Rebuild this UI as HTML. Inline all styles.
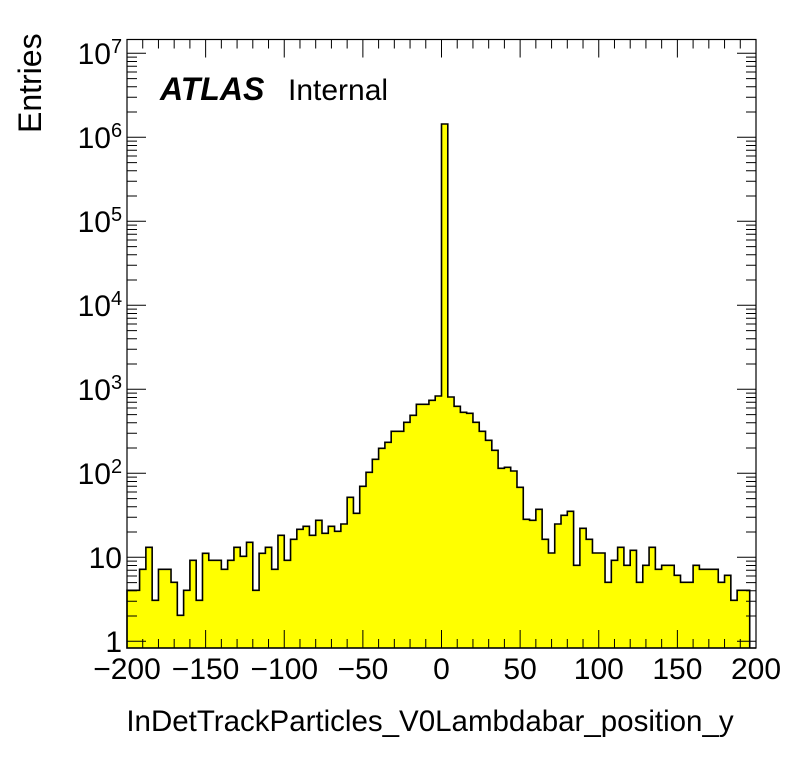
<!DOCTYPE html>
<html><head><meta charset="utf-8"><style>
body{margin:0;background:#fff;}
svg text{font-family:"Liberation Sans",sans-serif;fill:#000;}
</style></head><body>
<svg id="s" width="796" height="772" xmlns="http://www.w3.org/2000/svg">
<rect x="0" y="0" width="796" height="772" fill="#fff"/>
<g id="hist"></g>
<g id="ticks" stroke="#000" stroke-width="1" fill="none"></g>
<rect x="127" y="39.5" width="629" height="608.5" fill="none" stroke="#000" stroke-width="1.2"/>
<g font-size="30" text-anchor="middle">
<text x="127" y="679">−200</text>
<text x="205.6" y="679">−150</text>
<text x="284.3" y="679">−100</text>
<text x="362.9" y="679">−50</text>
<text x="441.5" y="679">0</text>
<text x="520.1" y="679">50</text>
<text x="598.8" y="679">100</text>
<text x="677.4" y="679">150</text>
<text x="756" y="679">200</text>
</g>
<g font-size="30" text-anchor="end">
<text x="122" y="652">1</text>
<text x="122" y="568">10</text>
<text x="111" y="484">10</text><text x="111" y="473" font-size="20" text-anchor="start">2</text>
<text x="111" y="400">10</text><text x="111" y="389" font-size="20" text-anchor="start">3</text>
<text x="111" y="316">10</text><text x="111" y="305" font-size="20" text-anchor="start">4</text>
<text x="111" y="232">10</text><text x="111" y="221" font-size="20" text-anchor="start">5</text>
<text x="111" y="148">10</text><text x="111" y="137" font-size="20" text-anchor="start">6</text>
<text x="111" y="64">10</text><text x="111" y="53" font-size="20" text-anchor="start">7</text>
</g>
<text x="41" y="133" font-size="32" transform="rotate(-90 41 133)" text-anchor="start">Entries</text>
<text x="430" y="731" font-size="29.5" text-anchor="middle">InDetTrackParticles_V0Lambdabar_position_y</text>
<text x="160" y="100" font-size="32" font-weight="bold" font-style="italic">ATLAS</text>
<text x="288" y="100" font-size="30">Internal</text>
</svg>
<script>
var ys=[590.3,590.3,569.3,547.3,600.3,569.3,569.3,582.3,615.3,590.3,560.3,600.3,553.3,560.3,560.3,569.3,560.3,547.3,556.3,542.3,
590.3,553.3,547.3,569.3,535.3,560.3,539.3,529.3,526.3,535.3,520.3,533.3,526.3,531.3,524,497.3,513.3,486.3,472.3,459.3,
448.3,442.3,431.3,431.3,422.3,415.3,404.3,404.3,400.3,396,124,397,406.3,412.3,413.3,422.3,431.3,440.3,450.3,468.3,
467.3,471,487.3,519.3,520.3,509.3,539.3,553,524,515.3,511.3,565.3,528.3,539.3,553,553,582.3,560.3,547.3,565.3,
550.3,582.3,565.3,547.3,569.3,565.3,565.3,575.3,582.3,582.3,565.3,569.3,569.3,569.3,582.3,575.3,600.3,590.3,590.3,648];
var x0=127,bw=629/100,bot=648;
var d="M"+x0+","+bot;
for(var i=0;i<100;i++){var xa=x0+i*bw,xb=x0+(i+1)*bw;d+=" L"+xa.toFixed(2)+","+ys[i]+" L"+xb.toFixed(2)+","+ys[i];}
d+=" L756,"+bot+" Z";
var ns="http://www.w3.org/2000/svg";
var p=document.createElementNS(ns,"path");p.setAttribute("d",d);p.setAttribute("fill","#ffff00");p.setAttribute("stroke","#000");p.setAttribute("stroke-width","1.6");
document.getElementById("hist").appendChild(p);
var t="";
for(var v=-200;v<=200;v+=10){var x=x0+(v+200)*629/400;var L=(v%50==0)?18:9;t+="M"+x+",648 V"+(648-L)+" M"+x+",39.5 V"+(39.5+L)+" ";}
function yv(v){return 641.3-84*Math.log10(v);}
for(var e=0;e<=7;e++){for(var m=1;m<=9;m++){var v=m*Math.pow(10,e);var y=yv(v);if(y<39.5||y>648)continue;var L=(m==1)?19:10;t+="M127,"+y.toFixed(2)+" H"+(127+L)+" M756,"+y.toFixed(2)+" H"+(756-L)+" ";}}
var tp=document.createElementNS(ns,"path");tp.setAttribute("d",t);document.getElementById("ticks").appendChild(tp);
</script>
</body></html>
